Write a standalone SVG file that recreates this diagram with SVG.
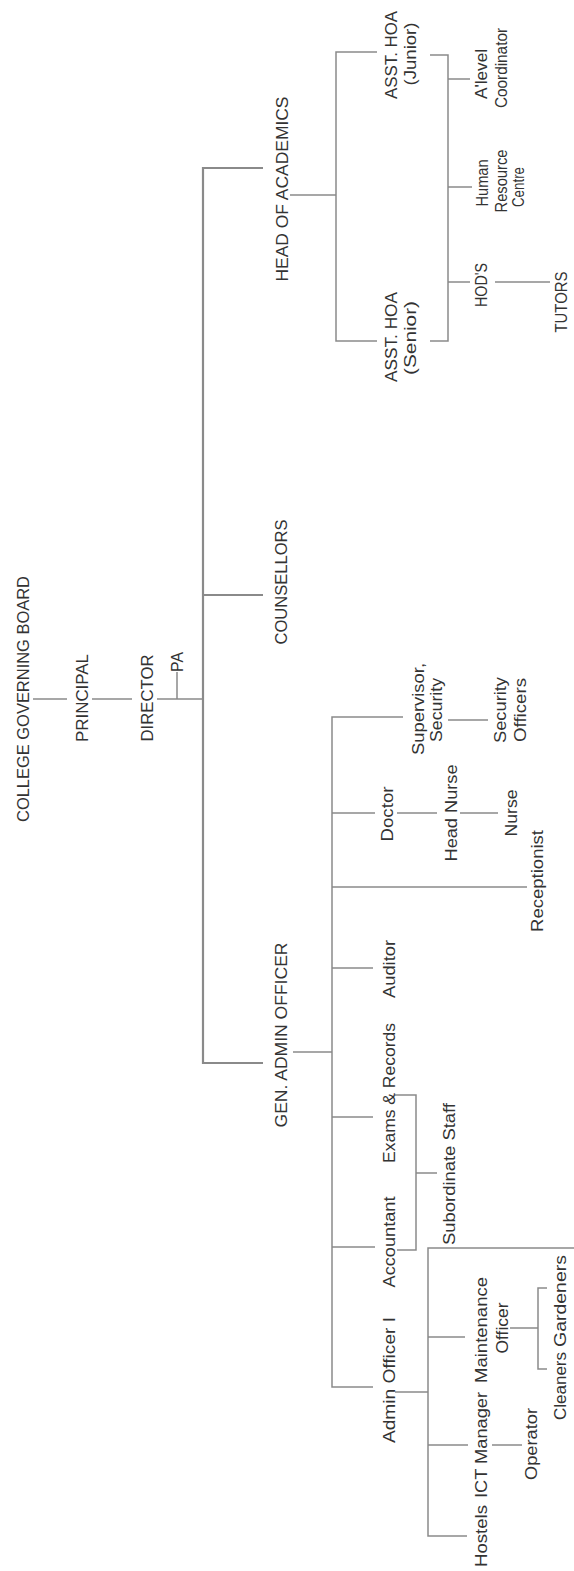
<svg xmlns="http://www.w3.org/2000/svg" width="574" height="1571" viewBox="0 0 574 1571">
<style>
.c{fill:none;stroke:#8a8a8a;stroke-width:1.5}
.t{stroke:#8a8a8a;stroke-width:2.2;fill:none}
text{font-family:"Liberation Sans",Arial,sans-serif;font-size:16px;fill:#333;text-anchor:middle}
</style>
<rect width="574" height="1571" fill="#fff"/>
<g id="connectors">
<path class="c" d="M33,699H67M92,699H132M157,699H203M177,672V699"/>
<path class="t" d="M263,168H203V1063H263M203,595H263"/>
<path class="c" d="M290,195H336M377,52H336V341H377"/>
<path class="c" d="M430,55H448V341H430M448,79H470M448,187H472M448,282H470M495,282H550"/>
<path class="c" d="M293,1052H332M403,717H332V1387H373M332,813H375M332,887H527M332,968H373M332,1117H373M332,1247H375"/>
<path class="c" d="M448,720H488M397,813H437M460,813H498"/>
<path class="c" d="M395,1095H416V1250H397M416,1173H437"/>
<path class="c" d="M395,1392H428M574,1248H428V1536H467M428,1337H465M428,1445H468"/>
<path class="c" d="M510,1328H538M547,1288H538V1369H547M492,1445H522"/>
</g>
<g id="board"><text transform="translate(29,699) rotate(-90)" textLength="246" lengthAdjust="spacingAndGlyphs">COLLEGE GOVERNING BOARD</text></g>
<g id="principal"><text transform="translate(88,698) rotate(-90)" textLength="88" lengthAdjust="spacingAndGlyphs">PRINCIPAL</text></g>
<g id="director"><text transform="translate(153,698) rotate(-90)" textLength="87" lengthAdjust="spacingAndGlyphs">DIRECTOR</text></g>
<g id="pa"><text transform="translate(183,662) rotate(-90)" textLength="20" lengthAdjust="spacingAndGlyphs">PA</text></g>
<g id="head-academics"><text transform="translate(288,189) rotate(-90)" textLength="185" lengthAdjust="spacingAndGlyphs">HEAD OF ACADEMICS</text></g>
<g id="counsellors"><text transform="translate(287,582) rotate(-90)" textLength="125" lengthAdjust="spacingAndGlyphs">COUNSELLORS</text></g>
<g id="gen-admin"><text transform="translate(287,1035) rotate(-90)" textLength="185" lengthAdjust="spacingAndGlyphs">GEN. ADMIN OFFICER</text></g>
<g id="asst-junior">
<text transform="translate(397,55) rotate(-90)" textLength="88" lengthAdjust="spacingAndGlyphs">ASST. HOA</text>
<text transform="translate(416,54) rotate(-90)" textLength="63" lengthAdjust="spacingAndGlyphs">(Junior)</text>
</g>
<g id="asst-senior">
<text transform="translate(397,337) rotate(-90)" textLength="90" lengthAdjust="spacingAndGlyphs">ASST. HOA</text>
<text transform="translate(416,338) rotate(-90)" textLength="74" lengthAdjust="spacingAndGlyphs">(Senior)</text>
</g>
<g id="alevel">
<text transform="translate(487,74) rotate(-90)" textLength="50" lengthAdjust="spacingAndGlyphs">A'level</text>
<text transform="translate(507,68) rotate(-90)" textLength="80" lengthAdjust="spacingAndGlyphs">Coordinator</text>
</g>
<g id="hr">
<text transform="translate(488,183) rotate(-90)" textLength="47" lengthAdjust="spacingAndGlyphs">Human</text>
<text transform="translate(507,181) rotate(-90)" textLength="63" lengthAdjust="spacingAndGlyphs">Resource</text>
<text transform="translate(524,187) rotate(-90)" textLength="40" lengthAdjust="spacingAndGlyphs">Centre</text>
</g>
<g id="hods"><text transform="translate(487,285) rotate(-90)" textLength="44" lengthAdjust="spacingAndGlyphs">HOD'S</text></g>
<g id="tutors"><text transform="translate(567,302) rotate(-90)" textLength="61" lengthAdjust="spacingAndGlyphs">TUTORS</text></g>
<g id="supervisor">
<text transform="translate(424,709) rotate(-90)" textLength="92" lengthAdjust="spacingAndGlyphs">Supervisor,</text>
<text transform="translate(442,710) rotate(-90)" textLength="64" lengthAdjust="spacingAndGlyphs">Security</text>
</g>
<g id="security-officers">
<text transform="translate(506,710) rotate(-90)" textLength="66" lengthAdjust="spacingAndGlyphs">Security</text>
<text transform="translate(526,710) rotate(-90)" textLength="64" lengthAdjust="spacingAndGlyphs">Officers</text>
</g>
<g id="doctor"><text transform="translate(393,814) rotate(-90)" textLength="55" lengthAdjust="spacingAndGlyphs">Doctor</text></g>
<g id="head-nurse"><text transform="translate(457,813) rotate(-90)" textLength="97" lengthAdjust="spacingAndGlyphs">Head Nurse</text></g>
<g id="nurse"><text transform="translate(517,813) rotate(-90)" textLength="47" lengthAdjust="spacingAndGlyphs">Nurse</text></g>
<g id="receptionist"><text transform="translate(543,881) rotate(-90)" textLength="102" lengthAdjust="spacingAndGlyphs">Receptionist</text></g>
<g id="auditor"><text transform="translate(395,969) rotate(-90)" textLength="58" lengthAdjust="spacingAndGlyphs">Auditor</text></g>
<g id="exams"><text transform="translate(395,1093) rotate(-90)" textLength="140" lengthAdjust="spacingAndGlyphs">Exams &amp; Records</text></g>
<g id="subordinate"><text transform="translate(455,1174) rotate(-90)" textLength="142" lengthAdjust="spacingAndGlyphs">Subordinate Staff</text></g>
<g id="accountant"><text transform="translate(395,1242) rotate(-90)" textLength="91" lengthAdjust="spacingAndGlyphs">Accountant</text></g>
<g id="admin-officer"><text transform="translate(395,1380) rotate(-90)" textLength="126" lengthAdjust="spacingAndGlyphs">Admin Officer I</text></g>
<g id="maintenance">
<text transform="translate(487,1330) rotate(-90)" textLength="106" lengthAdjust="spacingAndGlyphs">Maintenance</text>
<text transform="translate(508,1328) rotate(-90)" textLength="51" lengthAdjust="spacingAndGlyphs">Officer</text>
</g>
<g id="gardeners"><text transform="translate(566,1301) rotate(-90)" textLength="92" lengthAdjust="spacingAndGlyphs">Gardeners</text></g>
<g id="cleaners"><text transform="translate(566,1386) rotate(-90)" textLength="68" lengthAdjust="spacingAndGlyphs">Cleaners</text></g>
<g id="ict"><text transform="translate(487,1445) rotate(-90)" textLength="106" lengthAdjust="spacingAndGlyphs">ICT Manager</text></g>
<g id="operator"><text transform="translate(537,1444) rotate(-90)" textLength="72" lengthAdjust="spacingAndGlyphs">Operator</text></g>
<g id="hostels"><text transform="translate(487,1536) rotate(-90)" textLength="62" lengthAdjust="spacingAndGlyphs">Hostels</text></g>
</svg>
